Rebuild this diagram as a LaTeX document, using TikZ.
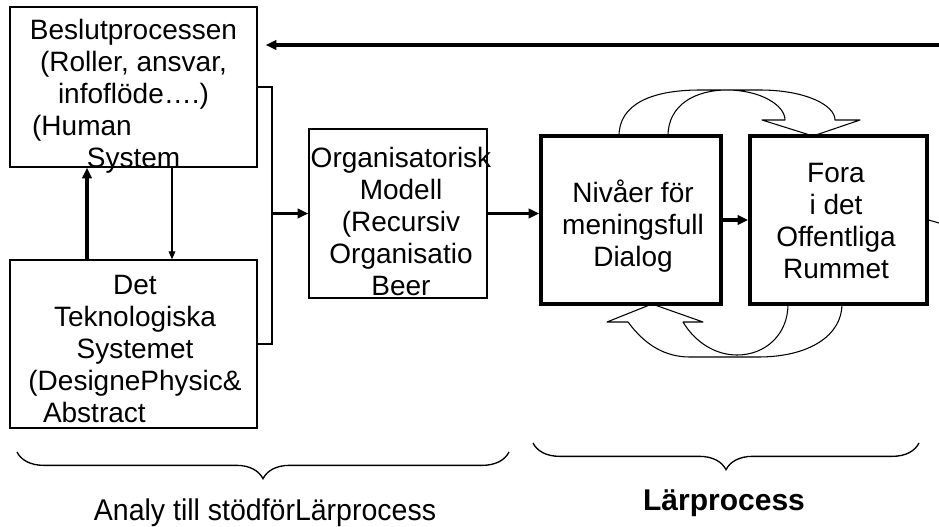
\documentclass[tikz,border=0pt]{standalone}
\usepackage{fontspec}
\setmainfont{Liberation Sans}
\usetikzlibrary{arrows.meta,decorations.pathreplacing}

\tikzset{
  box/.style={draw, line width=1pt, inner sep=0pt},
  thickbox/.style={draw, line width=2.6pt, inner sep=0pt},
  boxtext/.style={align=center, inner sep=0pt, anchor=north, font=\fontsize{21}{24}\selectfont},
  conn/.style={line width=2.8pt, -{Triangle[length=8pt,width=7pt]}},
  thinconn/.style={line width=0.9pt, -{Triangle[length=6pt,width=5pt]}},
  bracketline/.style={line width=1.1pt},
  blockarrow/.style={line width=0.8pt, line join=round},
  bigbrace/.style={line width=1pt, decorate, decoration={brace, mirror, amplitude=20pt}}
}

\begin{document}
\begin{tikzpicture}[x=0.75pt, y=-0.75pt]
  \useasboundingbox (0,0) rectangle (939,526);

  % Boxes on the left
  \node[box, minimum width=185.25pt, minimum height=120pt] (beslut) at (133.5,87) {};
  \node[boxtext] (beslutT) at (133.5,19) {Beslutprocessen\\(Roller, ansvar,\\infoflöde….)\\\makebox[152pt][l]{(Human}\\System};

  \node[box, minimum width=185.25pt, minimum height=126pt] (tekn) at (133.5,344) {};
  \node[boxtext] (teknT) at (135,275) {Det\\Teknologiska\\Systemet\\(DesignePhysic\&\\\makebox[138pt][l]{Abstract}};

  % Middle box
  \node[box, minimum width=133.5pt, minimum height=126.75pt] (orgmod) at (398,213.5) {};
  \node[boxtext] (orgmodT) at (401,147) {Organisatorisk\\Modell\\(Recursiv\\Organisatio\\Beer};

  % Learning process boxes
  \node[thickbox, minimum width=135pt, minimum height=126pt] (nivaer) at (631,220) {};
  \node[boxtext] (nivaerT) at (633,180) {Nivåer för\\meningsfull\\Dialog};

  \node[thickbox, minimum width=132.75pt, minimum height=126pt] (fora) at (838.5,220) {};
  \node[boxtext] (foraT) at (836,163) {Fora\\i det\\Offentliga\\Rummet};

  % Connectors
  \coordinate (rt) at (939,45);
  \draw[conn] (rt) -- ([xshift=6pt]beslut.east |- rt);

  \coordinate (upx) at (87,0);
  \draw[conn] (tekn.north -| upx) -- (beslut.south -| upx);
  \coordinate (downx) at (172,0);
  \draw[thinconn] (beslut.south -| downx) -- (tekn.north -| downx);

  \coordinate (jn) at (272,213.5);
  \draw[bracketline] (beslut.east) -| (jn) |- (tekn.east);
  \draw[conn] (jn) -- (orgmod.west);
  \draw[conn] (orgmod.east) -- (orgmod.east -| nivaer.west);
  \draw[conn] (nivaer.east) -- (fora.west);

  \coordinate (stub) at (939,223);
  \draw[line width=0.8pt] (fora.east) -- (stub);

  % Curved block arrow on top
  \draw[blockarrow] (668,136) .. controls (668,105) and (695,90) .. (727,90)
    .. controls (760,90) and (785,105) .. (785,120) -- (762,120) -- (813,136)
    -- (860,120) -- (835,120) .. controls (835,105) and (805,90) .. (760,90)
    -- (700,90) .. controls (650,90) and (619,105) .. (619,136);

  % Curved block arrow below
  \draw[blockarrow] (788,304) .. controls (788,335) and (765,355) .. (737,355)
    .. controls (715,355) and (695,342) .. (683,322) -- (703,322) -- (652,304)
    -- (607,322) -- (628,322) .. controls (645,345) and (665,357) .. (690,357)
    -- (758,357) .. controls (810,357) and (842,335) .. (842,304);

  % Braces and labels
  \draw[bigbrace] (17,452) -- (509,452) coordinate (braceA);
  \draw[bigbrace] (533,443) -- (919,443) coordinate (braceB);
  \node[anchor=base, inner sep=0pt, font=\fontsize{22.5}{27}\selectfont] (analy) at (265,520) {\scalebox{0.95}[1]{Analy till stödförLärprocess}};
  \node[anchor=base, inner sep=0pt, font=\fontsize{22.5}{27}\selectfont\bfseries] (larp) at (724,510) {Lärprocess};
\end{tikzpicture}
\end{document}
